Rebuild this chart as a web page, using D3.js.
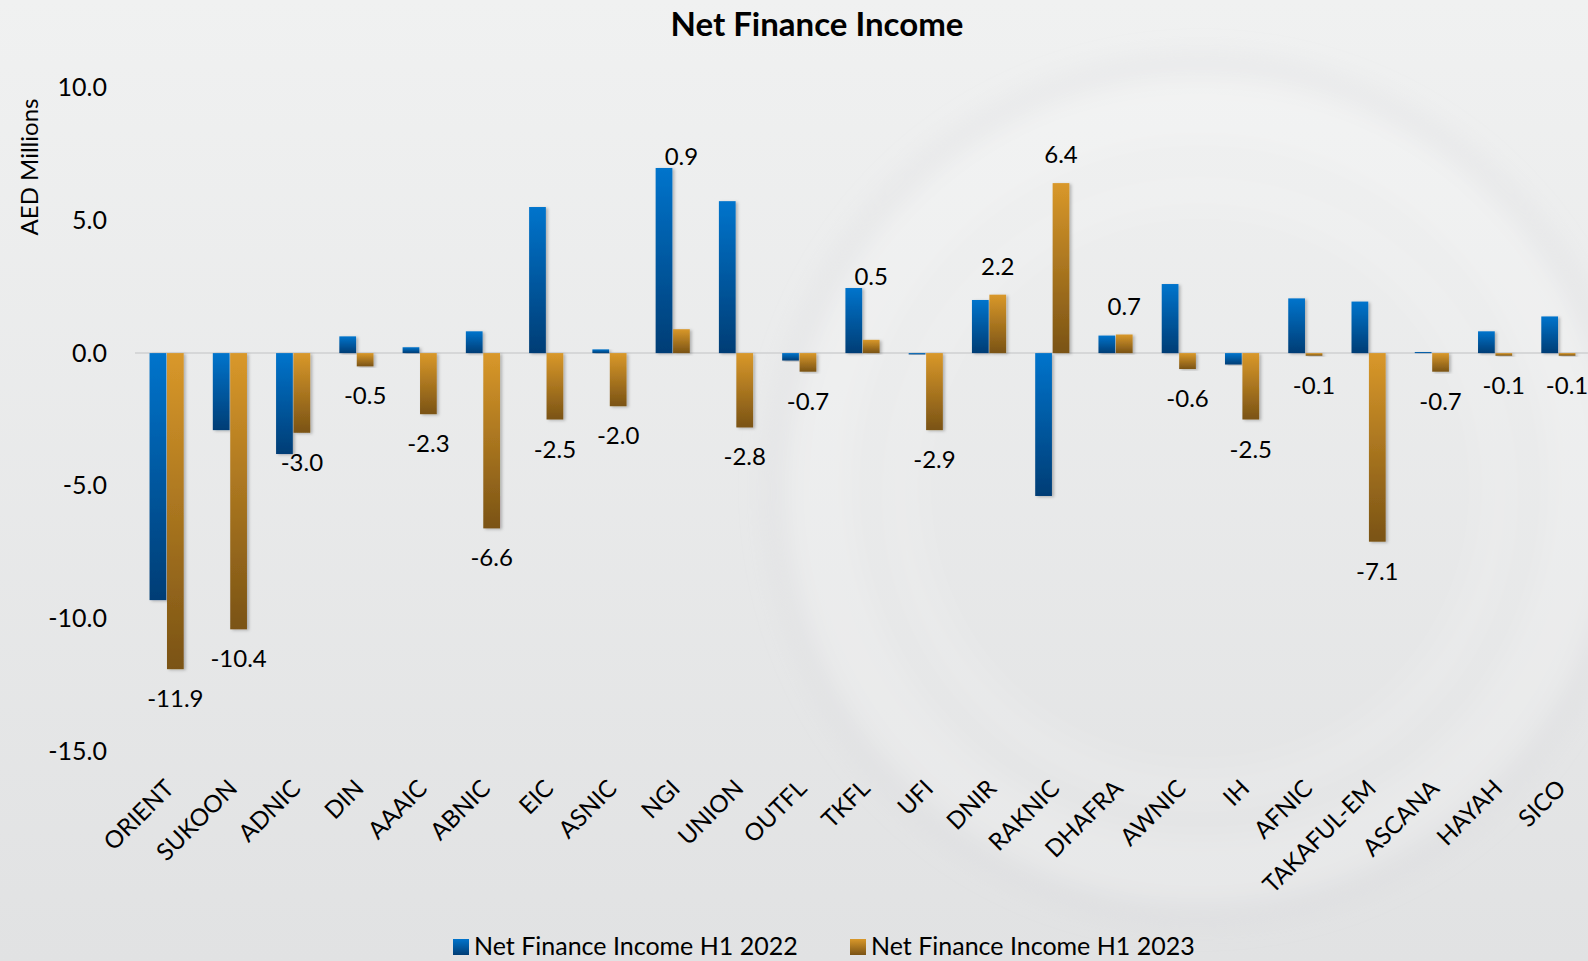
<!DOCTYPE html>
<html>
<head>
<meta charset="utf-8">
<script src="https://cdn.jsdelivr.net/npm/d3@7"></script>
<style>
  body { margin: 0; background: #ebeced; }
  svg { display: block; font-family: Lato, "Open Sans", sans-serif; }
</style>
</head>
<body>
<script>
// categories and series
const companies = ["ORIENT", "SUKOON", "ADNIC", "DIN", "AAAIC", "ABNIC", "EIC", "ASNIC", "NGI", "UNION",
  "OUTFL", "TKFL", "UFI", "DNIR", "RAKNIC", "DHAFRA", "AWNIC", "IH", "AFNIC", "TAKAFUL-EM", "ASCANA", "HAYAH", "SICO"];
const h1_2022 = [-9.3, -2.9, -3.8, 0.63, 0.22, 0.82, 5.5, 0.14, 6.97, 5.72,
  -0.28, 2.45, -0.05, 2.0, -5.38, 0.66, 2.6, -0.43, 2.06, 1.94, 0.04, 0.82, 1.38];
const h1_2023 = [-11.9, -10.4, -3.0, -0.5, -2.3, -6.6, -2.5, -2.0, 0.9, -2.8,
  -0.7, 0.5, -2.9, 2.2, 6.4, 0.7, -0.6, -2.5, -0.1, -7.1, -0.7, -0.1, -0.1];
const seriesNames = ["Net Finance Income H1 2022", "Net Finance Income H1 2023"];
const yTicks = [10, 5, 0, -5, -10, -15];

const W = 1588, H = 961;
const fmt = v => v.toFixed(1);

let svg = d3.select("body").append("svg")
    .attr("width", W)
    .attr("height", H);

let defs = svg.append("defs");

    // background
let bg = defs.append("linearGradient").attr("id", "bg")
    .attr("x1", 0).attr("y1", 0).attr("x2", 0).attr("y2", 1);
bg.append("stop").attr("offset", "0%").attr("stop-color", "#f0f1f1");
bg.append("stop").attr("offset", "100%").attr("stop-color", "#e1e2e3");

    // bar gradients, light at top, dark at bottom
let grads = [["blueGrad", "#0074cc", "#003d75"], ["goldGrad", "#d9982a", "#7a5315"]];
grads.forEach(g => {
    let lg = defs.append("linearGradient").attr("id", g[0])
        .attr("x1", 0).attr("y1", 0).attr("x2", 0).attr("y2", 1);
    lg.append("stop").attr("offset", "0%").attr("stop-color", g[1]);
    lg.append("stop").attr("offset", "100%").attr("stop-color", g[2]);
});

defs.append("filter").attr("id", "shadow")
    .attr("x", "-50%").attr("y", "-10%").attr("width", "200%").attr("height", "120%")
  .append("feDropShadow")
    .attr("dx", 2).attr("dy", 1).attr("stdDeviation", 1.5)
    .attr("flood-color", "#000").attr("flood-opacity", 0.25);

defs.append("filter").attr("id", "blur")
  .append("feGaussianBlur").attr("stdDeviation", 12);

svg.append("rect").attr("width", W).attr("height", H).attr("fill", "url(#bg)");

    // faint swirl in the background
let swirl = svg.append("g").attr("fill", "none").attr("filter", "url(#blur)");
[[380, 70, 0.18], [300, 40, 0.12]].forEach(c => {
    swirl.append("circle")
        .attr("cx", 1200).attr("cy", 490).attr("r", c[0])
        .attr("stroke", "#ffffff").attr("stroke-width", c[1]).attr("stroke-opacity", c[2]);
});
swirl.append("circle")
    .attr("cx", 1200).attr("cy", 490).attr("r", 425)
    .attr("stroke", "#d4d5d6").attr("stroke-width", 22).attr("stroke-opacity", 0.25);

    // scales
let x0 = d3.scaleBand()
    .domain(companies)
    .range([135, 1590])
    .paddingInner(0.46)
    .paddingOuter(0.23);

let x1 = d3.scaleBand()
    .domain([0, 1])
    .range([0, x0.bandwidth()])
    .paddingInner(0.04);

let y = d3.scaleLinear()
    .domain([-15, 10])
    .range([751.5, 87.5]);

    // title
svg.append("text")
    .attr("x", 817)
    .attr("y", 36)
    .attr("text-anchor", "middle")
    .style("font-size", "33px")
    .style("font-weight", "bold")
    .attr("fill", "#000")
    .text("Net Finance Income");

    // y axis title
svg.append("text")
    .attr("transform", "translate(38,167) rotate(-90)")
    .attr("text-anchor", "middle")
    .style("font-size", "24px")
    .attr("fill", "#000")
    .text("AED Millions");

    // y axis
let yAxis = d3.axisLeft(y)
    .tickValues(yTicks)
    .tickSize(0)
    .tickPadding(0)
    .tickFormat(fmt);

svg.append("g")
    .attr("transform", "translate(107,0)")
    .call(yAxis)
    .call(g => g.select(".domain").remove())
    .selectAll("text")
    .style("font-size", "25px")
    .style("font-family", "Lato, sans-serif")
    .attr("fill", "#000");

    // zero line
svg.append("line")
    .attr("x1", 135).attr("x2", W)
    .attr("y1", y(0)).attr("y2", y(0))
    .attr("stroke", "#d6d7d8")
    .attr("stroke-width", 2);

    // bars
let rows = companies.map((c, i) => ({ name: c, vals: [h1_2022[i], h1_2023[i]] }));

let group = svg.selectAll(".grp")
    .data(rows)
    .enter().append("g")
    .attr("class", "grp")
    .attr("transform", d => "translate(" + x0(d.name) + ",0)");

group.selectAll("rect")
    .data(d => d.vals.map((v, k) => ({ k: k, v: v })))
    .enter().append("rect")
    .attr("x", d => x1(d.k))
    .attr("width", x1.bandwidth())
    .attr("y", d => Math.min(y(d.v), y(0)))
    .attr("height", d => Math.max(Math.abs(y(d.v) - y(0)), 1))
    .attr("fill", d => d.k === 0 ? "url(#blueGrad)" : "url(#goldGrad)")
    .attr("filter", "url(#shadow)");

    // data labels (2023 series only)
group.append("text")
    .attr("x", x1(1) + x1.bandwidth() / 2)
    .attr("y", d => {
        let a = d.vals[0], b = d.vals[1];
        if (b >= 0 && a > b) return y(a) - 12 + 9;
        if (b >= 0) return y(b) - 29 + 9;
        return y(b) + 29 + 9;
    })
    .attr("text-anchor", "middle")
    .style("font-size", "24px")
    .attr("fill", "#000")
    .text(d => fmt(d.vals[1]));

    // category labels
svg.append("g")
    .selectAll("text")
    .data(companies)
    .enter().append("text")
    .attr("transform", d => "translate(" + (x0(d) + x0.bandwidth() / 2 - 3) + ",778) rotate(-45)")
    .attr("text-anchor", "end")
    .attr("dy", "0.7em")
    .style("font-size", "24px")
    .attr("fill", "#000")
    .text(d => d);

    // legend
let legendX = [453, 850];
let legend = svg.selectAll(".legend")
    .data(seriesNames)
    .enter().append("g")
    .attr("class", "legend")
    .attr("transform", (d, i) => "translate(" + legendX[i] + ",939)");

legend.append("rect")
    .attr("width", 16).attr("height", 16)
    .attr("fill", (d, i) => i === 0 ? "url(#blueGrad)" : "url(#goldGrad)");

legend.append("text")
    .attr("x", 21)
    .attr("y", 16)
    .style("font-size", "25px")
    .attr("fill", "#000")
    .text(d => d);
</script>
</body>
</html>
